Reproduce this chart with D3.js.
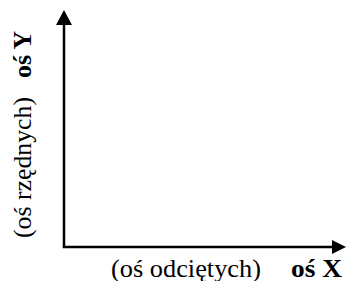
<!DOCTYPE html>
<html>
<head>
<meta charset="utf-8">
<script src="https://cdn.jsdelivr.net/npm/d3@7"></script>
<style>
  html, body { margin: 0; padding: 0; background: #fff; }
  svg text { font-family: "Liberation Serif", "Times New Roman", serif; fill: #000; font-size: 25px; }
</style>
</head>
<body>
<svg id="chart" width="347" height="281"></svg>
<script>
// axis labels
const xLabels = ["(oś odciętych)", "oś X"];
const yLabels = ["(oś rzędnych)", "oś Y"];
const xDomain = [0, 1], yDomain = [0, 1];

const W = 347, H = 281;
const m = { left: 64, right: 1, top: 10, bottom: 34 };

const svg = d3.select("#chart");
const x = d3.scaleLinear().domain(xDomain).range([m.left, W - m.right]);
const y = d3.scaleLinear().domain(yDomain).range([H - m.bottom, m.top]);

// axis lines
svg.append("line")
  .attr("x1", x(0) - 1.25).attr("x2", x(1) - 12)
  .attr("y1", y(0)).attr("y2", y(0))
  .attr("stroke", "#000").attr("stroke-width", 2.5);
svg.append("line")
  .attr("x1", x(0)).attr("x2", x(0))
  .attr("y1", y(0)).attr("y2", y(1) + 12)
  .attr("stroke", "#000").attr("stroke-width", 2.5);

// arrow heads
svg.append("path")
  .attr("d", `M${x(1)},${y(0)} L${x(1) - 14},${y(0) - 7} L${x(1) - 14},${y(0) + 7} Z`);
svg.append("path")
  .attr("d", `M${x(0)},${y(1)} L${x(0) - 8},${y(1) + 15} L${x(0) + 8},${y(1) + 15} Z`);

// x labels
svg.append("text").attr("x", 111).attr("y", 277)
  .attr("textLength", 150).attr("lengthAdjust", "spacingAndGlyphs")
  .text(xLabels[0]);
svg.append("text").attr("x", 291).attr("y", 277)
  .attr("textLength", 51).attr("lengthAdjust", "spacingAndGlyphs")
  .style("font-weight", "bold").text(xLabels[1]);

// y labels (rotated)
svg.append("text").attr("transform", "translate(31,238) rotate(-90)")
  .attr("textLength", 141).attr("lengthAdjust", "spacingAndGlyphs")
  .text(yLabels[0]);
svg.append("text").attr("transform", "translate(31,78) rotate(-90)")
  .attr("textLength", 47).attr("lengthAdjust", "spacingAndGlyphs")
  .style("font-weight", "bold").text(yLabels[1]);
</script>
</body>
</html>
